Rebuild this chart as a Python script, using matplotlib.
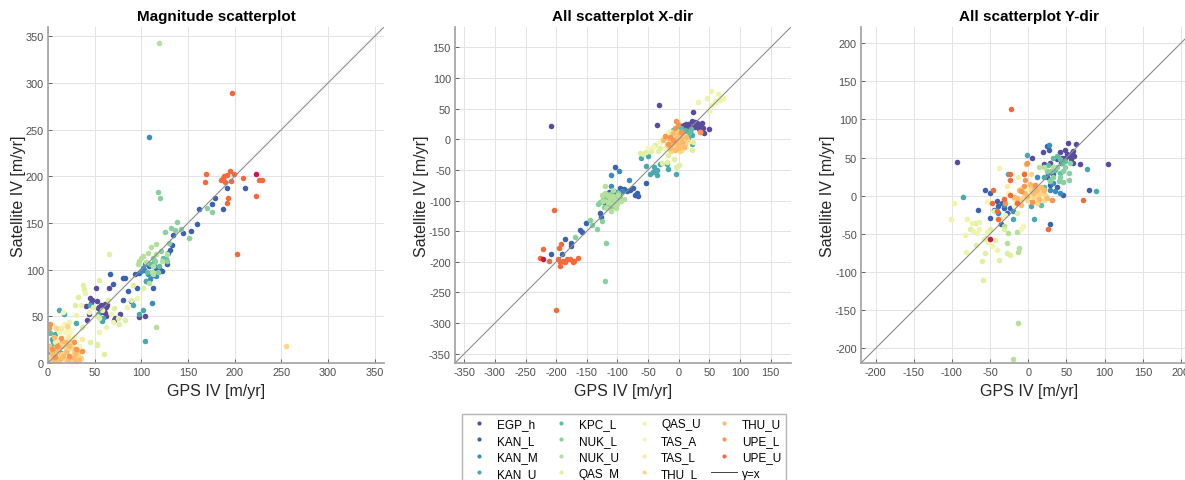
import matplotlib
matplotlib.use('Agg')
import matplotlib.pyplot as plt
from matplotlib.lines import Line2D

plt.rcParams['font.family'] = ['Liberation Sans', 'DejaVu Sans']
plt.rcParams['axes.unicode_minus'] = False

STATIONS = ['EGP_h', 'KAN_L', 'KAN_M', 'KAN_U', 'KPC_L', 'NUK_L', 'NUK_U', 'QAS_M',
            'QAS_U', 'TAS_A', 'TAS_L', 'THU_L', 'THU_U', 'UPE_L', 'UPE_U']
COLORS = ['#5a4ba0', '#3a62b0', '#3a8cc0', '#48aab0', '#5fc0a0', '#88d0a0', '#b5e09c', '#dff0a0',
          '#eef5a8', '#f5f5b5', '#fbe9a0', '#fdd585', '#fdbb6b', '#fa9550', '#f46a3a']
EXTRA_COLOR = '#c8194b'

# (GPS, satellite) pairs per station, magnitude [m/yr]
MAG = {
    'EGP_h': [(55, 60), (57, 62), (58, 58), (60, 61), (61, 63), (59, 59), (62, 60), (56, 57), (63, 62),
              (57, 55), (60, 56), (54, 59), (51, 80), (65, 80), (45, 70), (46, 64), (52, 66), (61, 54),
              (62, 50), (71, 46), (77, 53), (98, 49), (104, 50), (42, 46), (44, 53), (47, 68), (41, 61), (72, 48)],
    'KAN_L': [(66, 95), (70, 85), (80, 91), (83, 91), (86, 77), (80, 67), (89, 66), (93, 95), (95, 80),
              (105, 88), (112, 80), (113, 94), (116, 102), (120, 100), (127, 106), (129, 118), (131, 121),
              (133, 126), (134, 137), (145, 139), (153, 141), (160, 149), (162, 165), (176, 170), (179, 177),
              (188, 165), (192, 188), (211, 188), (98, 96), (103, 100), (108, 104), (118, 97), (122, 99)],
    'KAN_M': [(108, 242), (102, 102), (107, 95), (111, 97), (100, 99), (114, 104), (109, 90), (104, 106),
              (116, 93), (111, 64)],
    'KAN_U': [(12, 57), (17, 53), (104, 24), (102, 57), (59, 48), (54, 53), (45, 62), (2, 12), (5, 22),
              (4, 26), (7, 31), (11, 20), (14, 11), (20, 15), (91, 62), (98, 53), (105, 88), (58, 45), (30, 43)],
    'KPC_L': [(109, 106), (114, 108), (123, 113), (5, 17), (2, 32), (4, 6), (8, 10), (12, 25), (18, 18),
              (22, 5), (106, 98), (119, 104), (126, 111)],
    'NUK_L': [(118, 183), (120, 177), (132, 145), (136, 142), (138, 151), (143, 144), (151, 134), (170, 166),
              (176, 162), (125, 140), (130, 129), (121, 120), (115, 109), (118, 98), (127, 109), (112, 113)],
    'NUK_U': [(119, 343), (96, 106), (98, 109), (102, 115), (105, 108), (111, 98), (116, 117), (110, 124),
              (116, 128), (127, 117), (122, 109), (108, 86), (112, 95), (116, 39), (100, 113), (107, 118), (113, 104)],
    'QAS_M': [(37, 84), (39, 79), (32, 71), (29, 62), (55, 89), (65, 117), (64, 68), (52, 50), (55, 48),
              (71, 59), (75, 48), (76, 42), (82, 46), (89, 68), (91, 84), (102, 80), (60, 10), (53, 20),
              (52, 19), (45, 22), (36, 39), (48, 60)],
    'QAS_U': [(30, 51), (35, 62), (44, 55), (62, 39), (55, 33), (23, 44), (21, 37), (12, 33), (40, 75),
              (58, 57), (67, 52), (70, 44), (85, 60), (95, 70)],
    'TAS_A': [(18, 33), (16, 55), (17, 42), (24, 33), (10, 25), (28, 28), (6, 40), (33, 18)],
    'TAS_L': [(8, 22), (14, 38), (26, 20), (31, 6), (21, 28), (3, 8), (36, 26)],
    'THU_L': [(2, 4), (5, 8), (8, 3), (10, 12), (12, 6), (15, 10), (18, 4), (20, 14), (22, 8), (25, 2),
              (28, 12), (30, 6), (7, 16), (14, 20), (3, 14), (17, 18), (24, 22), (32, 10), (11, 2), (26, 16),
              (255, 18), (9, 38), (20, 40), (35, 5)],
    'THU_U': [(4, 10), (6, 2), (9, 14), (13, 4), (16, 8), (19, 12), (21, 3), (23, 18), (27, 6), (29, 10),
              (31, 14), (1, 18), (12, 17), (15, 24), (33, 3), (6, 28), (19, 22), (30, 2)],
    'UPE_L': [(2, 42), (4, 15), (14, 27), (30, 15), (36, 13), (10, 18), (22, 7), (1, 38), (28, 22), (8, 6)],
    'UPE_U': [(169, 202), (168, 194), (185, 196), (187, 198), (190, 194), (189, 200), (192, 201), (195, 206),
              (196, 195), (193, 177), (192, 171), (199, 203), (209, 198), (223, 179), (226, 196), (229, 196),
              (197, 289), (202, 117)],
}
MAG_EXTRA = [(223, 202)]

# X-direction [m/yr]
XDIR = {
    'EGP_h': [(-209, 22), (-32, 55), (-36, 23), (23, 44), (8, 23), (12, 24), (21, 29), (29, 26), (37, 24),
              (40, 18), (50, 16), (34, 21), (23, 22), (17, 21), (31, 23), (38, 26), (26, 28), (4, 22), (11, 22),
              (19, 19), (41, 10), (27, 20), (33, 17), (15, 25)],
    'KAN_L': [(-209, -188), (-191, -187), (-185, -163), (-176, -169), (-175, -174), (-161, -148), (-158, -151),
              (-152, -136), (-129, -121), (-127, -127), (-114, -86), (-96, -79), (-85, -85), (-80, -83),
              (-74, -80), (-68, -87), (-71, -91), (-66, -92), (-54, -71), (-104, -45), (-116, -94), (-107, -86),
              (-110, -100), (-120, -104), (-90, -82), (-100, -92)],
    'KAN_M': [(-111, -59), (-97, -52), (-82, -66), (-97, -91), (-103, -86), (-110, -76), (-92, -84), (-115, -92)],
    'KAN_U': [(-61, -31), (-51, -28), (-54, -44), (-47, -56), (-42, -54), (-36, -58), (-35, -50), (-18, -48),
              (-4, -56), (10, 15), (18, 12), (22, 7), (22, -8), (-20, -40), (-30, -40), (5, 10), (-40, -45)],
    'KPC_L': [(-1, 21), (4, 18), (11, 14), (12, 7), (17, 10), (-9, 15), (7, 2), (15, 2), (0, 10), (-5, 8), (20, 16)],
    'NUK_L': [(-131, -106), (-129, -102), (-123, -97), (-118, -94), (-112, -99), (-107, -95), (-102, -102),
              (-96, -97), (-122, -110), (-115, -105), (-110, -110), (-103, -94), (-99, -88), (-92, -98),
              (-141, -140), (-134, -146), (-126, -134), (-120, -232), (-119, -170), (-170, -160), (-145, -132),
              (-106, -104), (-113, -89)],
    'NUK_U': [(-126, -91), (-121, -88), (-115, -91), (-108, -92), (-107, -83), (-99, -91), (-120, -76),
              (-118, -113), (-111, -117), (-103, -113), (-95, -100), (-112, -96), (-104, -99), (-116, -102),
              (-124, -100), (-100, -106), (-109, -106), (-89, -97)],
    'QAS_M': [(-64, -23), (-53, -21), (-45, -20), (-39, -9), (-34, -20), (-28, -38), (-20, -37), (-18, -26),
              (-8, -33), (-4, -45), (0, -42), (21, -18), (23, -4), (-14, -18), (-58, -24), (-30, -15)],
    'QAS_U': [(53, 78), (64, 73), (67, 64), (72, 67), (50, 46), (54, 56), (59, 63), (31, 61), (46, 67), (60, 60)],
    'TAS_A': [(-17, 12), (-25, 2), (-42, -12), (-50, -15), (-10, -6), (2, 7), (7, -9), (-30, -5), (-22, -14), (12, -12)],
    'TAS_L': [(-12, 12), (-6, 4), (15, -4), (-3, -12), (5, -18), (-20, -8), (10, 5)],
    'THU_L': [(-15, -5), (-10, 0), (-5, -10), (0, -3), (5, 5), (10, -8), (-8, -15), (3, -14), (8, 2), (-2, 6),
              (-20, -10), (13, -2), (-12, -20), (2, -20), (6, -6), (-4, 14)],
    'THU_U': [(-18, 2), (-12, -8), (-7, -4), (-2, -8), (3, 0), (9, -12), (-6, -18), (0, 8), (12, 4), (-15, -14),
              (6, -4), (-1, -14), (-9, 10), (4, 12), (-3, 2), (35, 12), (-25, -2)],
    'UPE_L': [(-4, 29), (-1, 24), (-15, 4), (-23, 6), (-9, -1), (34, 12), (4, 12), (-6, 18), (-18, -8)],
    'UPE_U': [(-204, -116), (-200, -279), (-221, -179), (-227, -194), (-212, -198), (-197, -195), (-194, -200),
              (-194, -206), (-192, -171), (-195, -177), (-189, -198), (-185, -200), (-183, -196), (-177, -195),
              (-171, -198), (-164, -193), (-172, -200)],
}
XDIR_EXTRA = [(-221, -195)]

# Y-direction [m/yr]
YDIR = {
    'EGP_h': [(-93, 44), (104, 42), (52, 69), (62, 68), (68, 42), (42, 57), (48, 60), (53, 52), (55, 54),
              (57, 56), (59, 58), (56, 48), (48, 49), (44, 49), (59, 43), (5, 49), (20, 42), (29, 43), (19, 57),
              (43, 43), (51, 55), (60, 52), (38, 48)],
    'KAN_L': [(-56, 8), (-50, 4), (-66, -18), (-50, -29), (-41, -7), (-39, -14), (-32, -16), (-36, -37),
              (-24, -16), (-15, -10), (25, 65), (27, 60), (33, 28), (38, 12), (46, 1), (79, 7), (28, -37),
              (24, 25), (29, 14), (-45, -18), (-28, -23), (-34, -10)],
    'KAN_M': [(27, 66), (26, 30), (29, 8), (35, 6), (42, 4), (33, 17), (-32, -12), (-39, -23), (-20, -20), (12, 25)],
    'KAN_U': [(-26, 28), (-1, 53), (-86, -2), (77, 35), (89, 6), (8, -31), (20, 25), (13, -5), (3, -14), (-20, -30)],
    'KPC_L': [(33, 49), (38, 52), (41, 48), (44, 43), (35, 34), (42, 30), (29, 21), (20, 12), (11, 4), (17, -12),
              (5, -5), (26, 40), (48, 45)],
    'NUK_L': [(38, 38), (45, 32), (53, 30), (54, 21), (46, 18), (40, 19), (33, 25), (28, 19), (25, 32), (48, 38),
              (55, 43), (30, 33), (42, 24)],
    'NUK_U': [(-14, -167), (-20, -214), (-12, -69), (-14, -74), (-28, -62), (-26, -49), (-15, -47), (14, 38),
              (20, 38), (33, 38), (-32, -40)],
    'QAS_M': [(-61, -86), (-59, -110), (-56, -75), (-69, -64), (-76, -44), (-69, -36), (-50, -44), (-43, -58),
              (-38, -84), (-32, -44), (-28, -75), (-24, -77), (-37, -31), (-45, -20), (-15, -23), (-55, -55)],
    'QAS_U': [(-101, -31), (-97, -9), (-83, -51), (-82, -74), (-80, -31), (-74, -36), (-64, -34), (-65, -44),
              (-58, -57), (-53, -60), (-48, -66), (-38, 36), (-67, -49), (-54, -47), (-41, -71), (-13, 25), (-72, -46)],
    'TAS_A': [(-50, -10), (-54, -7), (-19, -14), (-10, -44), (-7, -40), (-26, 3), (-6, 10), (-2, 6), (-30, -25)],
    'TAS_L': [(-28, 13), (-10, 10), (3, -1), (7, 12), (16, 6), (-6, 30), (11, -5), (-18, -4)],
    'THU_L': [(3, 8), (9, 6), (13, 1), (18, 4), (22, 1), (-4, 3), (-7, -3), (-10, -6), (-1, -5), (4, 12), (3, 28),
              (11, -10), (20, -5), (7, -2), (15, 10)],
    'THU_U': [(-6, 4), (-1, 0), (6, 3), (12, 8), (17, 12), (20, 8), (24, -3), (-15, -3), (-19, -1), (-10, -12),
              (-3, 41), (8, 12), (2, 16), (14, -4), (-12, 8)],
    'UPE_L': [(9, 14), (-4, 21), (-2, 43), (-6, 13), (-10, 6), (31, -5), (-30, -10), (5, -8)],
    'UPE_U': [(-22, 114), (72, -6), (26, -44), (-46, 8), (-48, -10), (-41, -20), (-39, -31), (-24, 28), (-24, 21),
              (-32, -4), (-15, -10), (-24, 1), (-5, 29)],
}
YDIR_EXTRA = [(-50, -56)]

PANELS = [
    ('Magnitude scatterplot', MAG, MAG_EXTRA, (0, 360), [0, 50, 100, 150, 200, 250, 300, 350]),
    ('All scatterplot X-dir', XDIR, XDIR_EXTRA, (-365, 183), list(range(-350, 151, 50))),
    ('All scatterplot Y-dir', YDIR, YDIR_EXTRA, (-219, 221), list(range(-200, 201, 50))),
]

fig = plt.figure(figsize=(11.85, 4.81), dpi=100)
lefts = [48, 455, 861]
W, H = 1185, 481

for left, (title, data, extra, lim, ticks) in zip(lefts, PANELS):
    ax = fig.add_axes([left / W, (481 - 364) / H, 336 / W, 336 / H])
    ax.set_axisbelow(True)
    ax.grid(True, color='#e3e3e3', lw=0.7)
    for name, col in zip(STATIONS, COLORS):
        pts = data[name]
        ax.scatter([p[0] for p in pts], [p[1] for p in pts], s=16, color=col, lw=0, label=name)
    ax.scatter([p[0] for p in extra], [p[1] for p in extra], s=16, color=EXTRA_COLOR, lw=0, label='_nolegend_')
    ax.plot(lim, lim, color='#8c8c8c', lw=0.8, label='y=x')
    ax.set_xlim(lim)
    ax.set_ylim(lim)
    ax.set_xticks(ticks)
    ax.set_yticks(ticks)
    ax.tick_params(labelsize=7.8, colors='#4d4d4d', length=3, direction='in', width=0.6, pad=3)
    for s in ['top', 'right']:
        ax.spines[s].set_visible(False)
    for s in ['left', 'bottom']:
        ax.spines[s].set_color('#a0a0a0')
        ax.spines[s].set_linewidth(1.2)
    ax.set_title(title, fontsize=11, fontweight='bold', pad=5)
    ax.set_xlabel('GPS IV [m/yr]', fontsize=11.5, color='#262626', labelpad=4)
    ax.set_ylabel('Satellite IV [m/yr]', fontsize=11.5, color='#262626', labelpad=0)

handles = [Line2D([], [], ls='none', marker='o', ms=3, mec='none', color=c) for c in COLORS]
handles.append(Line2D([], [], color='#444444', lw=0.7))
labels = STATIONS + ['y=x']
fig.legend(handles, labels, loc='upper left', bbox_to_anchor=(462 / W, 1 - 415 / H), borderaxespad=0,
           ncol=4, fontsize=8.5, frameon=True, fancybox=False, edgecolor='#a0a0a0',
           handlelength=2.2, handletextpad=0.4, columnspacing=0.9, labelspacing=0.38, borderpad=0.35)

plt.savefig('out.png', dpi=100, facecolor='white')
